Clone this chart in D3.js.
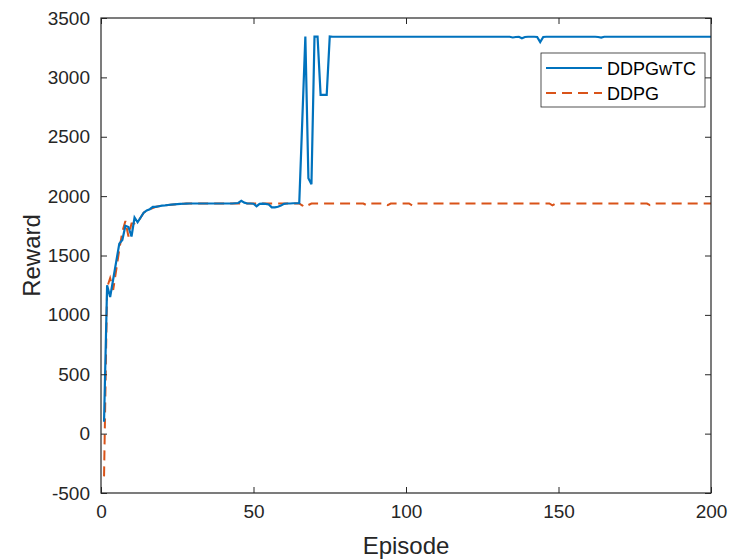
<!DOCTYPE html>
<html>
<head>
<meta charset="utf-8">
<script src="https://cdn.jsdelivr.net/npm/d3@7"></script>
<style>
  body { margin: 0; background: #fff; }
  svg { font-family: "Liberation Sans", Arial, sans-serif; }
</style>
</head>
<body>
<div class="chart"></div>
<script>
// reward per episode (episodes 1..200)
var ddpgwtc = [
    100, 1250, 1150, 1300, 1450, 1600, 1630, 1750, 1740, 1660,
    1820, 1780, 1820, 1860, 1880, 1890, 1910, 1910, 1915, 1920,
    1922, 1925, 1928, 1930, 1932, 1934, 1936, 1937, 1938, 1938,
    1938, 1938, 1938, 1938, 1938, 1938, 1938, 1938, 1938, 1938,
    1938, 1938, 1938, 1940, 1942, 1960, 1945, 1938, 1938, 1936,
    1915, 1935, 1936, 1935, 1930, 1905, 1905, 1910, 1920, 1935,
    1938, 1938, 1940, 1940, 1940, 2640, 3344, 2150, 2100, 3344,
    3344, 2853, 2853, 2853, 3344, 3342, 3342, 3342, 3342, 3342,
    3342, 3342, 3342, 3342, 3342, 3342, 3342, 3342, 3342, 3342,
    3342, 3342, 3342, 3342, 3342, 3342, 3342, 3342, 3342, 3342,
    3342, 3342, 3342, 3342, 3342, 3342, 3342, 3342, 3342, 3342,
    3342, 3342, 3342, 3342, 3342, 3342, 3342, 3342, 3342, 3342,
    3342, 3342, 3342, 3342, 3342, 3342, 3342, 3342, 3342, 3342,
    3342, 3342, 3342, 3342, 3336, 3340, 3342, 3330, 3340, 3342,
    3342, 3342, 3340, 3297, 3340, 3342, 3342, 3342, 3342, 3342,
    3342, 3342, 3342, 3342, 3342, 3342, 3342, 3342, 3342, 3342,
    3342, 3342, 3340, 3335, 3342, 3342, 3342, 3342, 3342, 3342,
    3342, 3342, 3342, 3342, 3342, 3342, 3342, 3342, 3342, 3342,
    3342, 3342, 3342, 3342, 3342, 3342, 3342, 3342, 3342, 3342,
    3342, 3342, 3342, 3342, 3342, 3342, 3342, 3342, 3342, 3342
];

var ddpg = [
    -360, 1230, 1310, 1210, 1380, 1550, 1700, 1790, 1660, 1770,
    1770, 1780, 1820, 1860, 1880, 1890, 1900, 1910, 1915, 1920,
    1922, 1925, 1928, 1930, 1932, 1934, 1936, 1937, 1938, 1938,
    1938, 1938, 1938, 1938, 1938, 1938, 1938, 1938, 1938, 1938,
    1938, 1938, 1938, 1938, 1938, 1938, 1938, 1938, 1938, 1938,
    1938, 1938, 1938, 1938, 1938, 1938, 1938, 1938, 1938, 1938,
    1938, 1938, 1938, 1938, 1938, 1920, 1938, 1925, 1938, 1938,
    1938, 1938, 1938, 1938, 1938, 1938, 1938, 1938, 1938, 1938,
    1938, 1938, 1938, 1938, 1938, 1938, 1925, 1938, 1938, 1938,
    1938, 1938, 1938, 1925, 1938, 1938, 1938, 1938, 1938, 1938,
    1938, 1922, 1938, 1938, 1938, 1938, 1938, 1938, 1938, 1938,
    1938, 1938, 1938, 1938, 1938, 1938, 1938, 1938, 1938, 1938,
    1938, 1938, 1938, 1938, 1938, 1938, 1938, 1938, 1938, 1938,
    1938, 1938, 1938, 1938, 1938, 1938, 1938, 1938, 1938, 1938,
    1938, 1938, 1938, 1938, 1938, 1938, 1938, 1922, 1938, 1938,
    1938, 1938, 1938, 1938, 1938, 1938, 1938, 1938, 1938, 1938,
    1938, 1938, 1938, 1938, 1938, 1938, 1938, 1938, 1938, 1938,
    1938, 1938, 1938, 1938, 1938, 1938, 1938, 1938, 1938, 1925,
    1938, 1938, 1938, 1938, 1938, 1938, 1938, 1938, 1938, 1938,
    1938, 1938, 1938, 1938, 1938, 1938, 1938, 1938, 1938, 1938
];

var xTicks = [0, 50, 100, 150, 200];
var yTicks = [-500, 0, 500, 1000, 1500, 2000, 2500, 3000, 3500];
var seriesNames = ["DDPGwTC", "DDPG"];

var width = 730, height = 560;
var margin = {top: 18, right: 19, bottom: 67, left: 101};
var axisColor = "#262626";
var tickLen = 6;

var svg = d3.select(".chart")
    .append("svg")
    .attr("width", width)
    .attr("height", height);

var x = d3.scaleLinear().domain([0, 200]).range([margin.left, width - margin.right]);
var y = d3.scaleLinear().domain([-500, 3500]).range([height - margin.bottom, margin.top]);

svg.append("clipPath").attr("id", "plot-clip")
    .append("rect")
    .attr("x", x(0)).attr("y", y(3500))
    .attr("width", x(200) - x(0)).attr("height", y(-500) - y(3500));

var line = d3.line()
    .x(function (d, i) { return x(i + 1); })
    .y(function (d) { return y(d); });

var plot = svg.append("g").attr("clip-path", "url(#plot-clip)");

plot.append("path")
    .datum(ddpg)
    .attr("fill", "none")
    .attr("stroke", "#D95319")
    .attr("stroke-width", 2)
    .attr("stroke-dasharray", "10,6")
    .attr("d", line);

plot.append("path")
    .datum(ddpgwtc)
    .attr("fill", "none")
    .attr("stroke", "#0072BD")
    .attr("stroke-width", 2.2)
    .attr("d", line);

// axes, MATLAB style: box with inward ticks on all four sides
function styleAxis(g) {
    g.select(".domain").remove();
    g.selectAll(".tick line").attr("stroke", axisColor).attr("stroke-width", 1);
    g.selectAll(".tick text").attr("fill", axisColor).style("font-size", "19px");
}

// plain hyphen for negatives, like the original
var fmt = function (d) { return String(d); };

svg.append("g")
    .attr("transform", "translate(0," + y(-500) + ")")
    .call(d3.axisBottom(x).tickValues(xTicks).tickFormat(fmt).tickSizeInner(-tickLen).tickSizeOuter(0).tickPadding(12))
    .call(styleAxis);

svg.append("g")
    .attr("transform", "translate(0," + y(3500) + ")")
    .call(d3.axisTop(x).tickValues(xTicks).tickSizeInner(-tickLen).tickSizeOuter(0).tickFormat(""))
    .call(styleAxis);

svg.append("g")
    .attr("transform", "translate(" + x(0) + ",0)")
    .call(d3.axisLeft(y).tickValues(yTicks).tickFormat(fmt).tickSizeInner(-tickLen).tickSizeOuter(0).tickPadding(11))
    .call(styleAxis);

svg.append("g")
    .attr("transform", "translate(" + x(200) + ",0)")
    .call(d3.axisRight(y).tickValues(yTicks).tickSizeInner(-tickLen).tickSizeOuter(0).tickFormat(""))
    .call(styleAxis);

svg.append("rect")
    .attr("x", x(0)).attr("y", y(3500))
    .attr("width", x(200) - x(0)).attr("height", y(-500) - y(3500))
    .attr("fill", "none")
    .attr("stroke", axisColor)
    .attr("stroke-width", 1.2);

svg.append("text")
    .attr("x", (x(0) + x(200)) / 2)
    .attr("y", 554)
    .attr("text-anchor", "middle")
    .attr("fill", axisColor)
    .style("font-size", "24px")
    .text("Episode");

svg.append("text")
    .attr("transform", "translate(40," + y(1500) + ") rotate(-90)")
    .attr("text-anchor", "middle")
    .attr("fill", axisColor)
    .style("font-size", "24px")
    .text("Reward");

// legend
var legend = svg.append("g").attr("transform", "translate(541,53)");
legend.append("rect")
    .attr("width", 164).attr("height", 54)
    .attr("fill", "#fff")
    .attr("stroke", axisColor)
    .attr("stroke-width", 0.8);

var legendStyles = [
    {color: "#0072BD", dash: null},
    {color: "#D95319", dash: "10,6"}
];

seriesNames.forEach(function (name, i) {
    var ly = 15 + i * 25;
    legend.append("line")
        .attr("x1", 5).attr("x2", 61)
        .attr("y1", ly).attr("y2", ly)
        .attr("stroke", legendStyles[i].color)
        .attr("stroke-width", 2)
        .attr("stroke-dasharray", legendStyles[i].dash);
    legend.append("text")
        .attr("x", 66).attr("y", ly + 6.5)
        .attr("fill", "#000")
        .style("font-size", "18px")
        .text(name);
});
</script>
</body>
</html>
